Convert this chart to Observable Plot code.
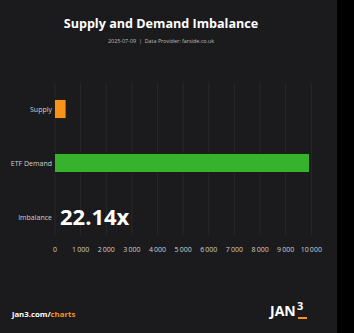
<!DOCTYPE html>
<html><head><meta charset="utf-8">
<script src="https://cdn.jsdelivr.net/npm/d3@7"></script>
<script src="https://cdn.jsdelivr.net/npm/@observablehq/plot@0.6"></script>
<style>
html,body{margin:0;padding:0;background:#000;}
body{width:354px;height:333px;overflow:hidden;font-family:"Open Sans",sans-serif;}
#card{position:absolute;left:0;top:0;width:337px;height:333px;background:#1b1b1d;}
#title{position:absolute;left:0;top:14px;width:322px;text-align:center;color:#fff;font-weight:700;font-size:12.6px;line-height:20px;}
#sub{position:absolute;left:0;top:36px;width:322px;text-align:center;color:#bdbdbd;font-size:5.4px;line-height:10px;}
#chart{position:absolute;left:0;top:65px;}
#foot{position:absolute;left:12px;top:308px;color:#fff;font-weight:700;font-size:7.8px;line-height:12px;}
#foot span{color:#f7931a;}
#logo{position:absolute;left:270px;top:302px;color:#fff;font-weight:700;font-size:14px;line-height:18px;letter-spacing:0px;}
#logo .three{position:absolute;left:27px;top:-3px;font-size:11px;line-height:14px;}
#logo .bar{position:absolute;left:28px;top:15px;width:9px;height:2px;background:#f7931a;}
</style></head>
<body>
<div id="card">
<div id="title">Supply and Demand Imbalance</div>
<div id="sub">2025-07-09 &nbsp;|&nbsp; Data Provider: farside.co.uk</div>
<div id="chart"></div>
<div id="foot">jan3.com/<span>charts</span></div>
<div id="logo">JAN<span class="three">3</span><span class="bar"></span></div>
</div>
<script>
const categories = ["Supply", "ETF Demand", "Imbalance"];
const barCategories = ["Supply", "ETF Demand"];
const barValues = [450, 9950];
const barColors = ["#f7931a", "#36b22d"];
const imbalanceLabel = "22.14x";
const xTicks = [0,1000,2000,3000,4000,5000,6000,7000,8000,9000,10000];

const bars = barCategories.map((c, i) => ({category: c, value: barValues[i], color: barColors[i]}));
const fmt = d => String(d).replace(/\B(?=(\d{3})+(?!\d))/g, "\u2009");

const chart = Plot.plot({
  width: 337,
  height: 200,
  marginLeft: 54.5,
  marginRight: 26.2,
  marginTop: 18,
  marginBottom: 30,
  style: {background: "transparent", color: "#d0d0d0", fontFamily: "Open Sans, sans-serif", fontSize: "7px"},
  x: {domain: [0, 10000], ticks: xTicks, tickFormat: fmt, grid: false, label: null, tickSize: 0, tickPadding: 12},
  y: {type: "band", domain: categories, range: [15.75, 179.25], padding: 0, label: null, tickSize: 0, tickPadding: 3},
  marks: [
    Plot.gridX(xTicks, {stroke: "#ffffff", strokeOpacity: 0.06}),
    Plot.barX(bars, {x: "value", y: "category", fill: d => d.color, stroke: "#111", strokeWidth: 0.8, insetTop: 17.5, insetBottom: 17.5}),
    Plot.text([{category: "Imbalance", label: imbalanceLabel}], {x: 0, y: "category", text: "label", dx: 5, textAnchor: "start", fill: "#fff", fontSize: 22, fontWeight: 700})
  ]
});
document.getElementById("chart").appendChild(chart);
</script>
</body></html>
